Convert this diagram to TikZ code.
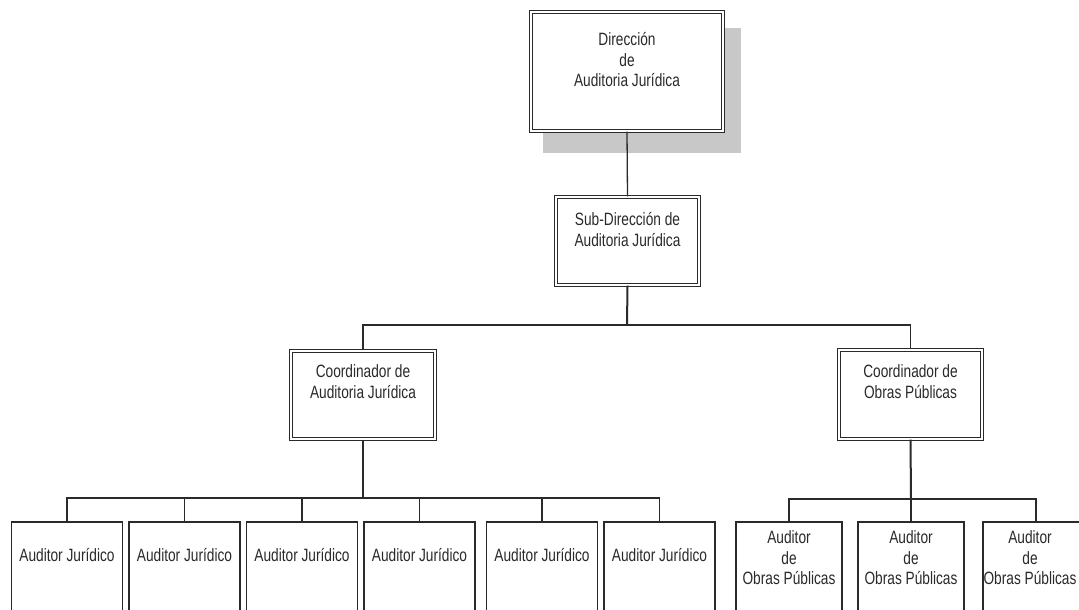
\documentclass[tikz,border=0pt]{standalone}
\usepackage{fontspec}
\usepackage{graphicx}
\setmainfont{Liberation Sans}
\usetikzlibrary{calc}

% tall, narrow label text: Arial-like glyphs stretched vertically
\newcommand{\tx}[1]{\scalebox{1}[1.3]{\begin{tabular}{@{}c@{}}#1\end{tabular}}}

\definecolor{ink}{HTML}{2A2A2A}
\definecolor{shadowgray}{HTML}{C8C8C8}

\tikzset{
  dbox/.style={draw=ink, line width=1.1pt, double=white, double distance=1.8pt,
               fill=white, rectangle, inner sep=0pt},
  sbox/.style={draw=ink, line width=1.3pt, fill=white, rectangle, inner sep=0pt,
               minimum height=98pt},
  ajbox/.style={sbox, minimum width=111pt},
  opbox/.style={sbox, minimum width=106pt},
  txt/.style={inner sep=0pt, text=ink, font=\fontsize{13.7}{15.4}\selectfont},
  conn/.style={draw=ink, line width=1.3pt},
  mainconn/.style={draw=ink, line width=2pt}
}

\begin{document}
\begin{tikzpicture}[x=1pt, y=-1pt]
\useasboundingbox (0,0) rectangle (1079,610);
\clip (0,0) rectangle (1079,610);

% drop shadow behind the director box
\fill[shadowgray] (543,28) rectangle (741,153);

% management boxes (double frame)
\node[dbox, minimum width=192pt, minimum height=119pt] (dir) at (627,71.5) {};
\node[txt] (dirT) at (627,62) {\tx{Dirección\\de\\Auditoria Jurídica}};

\node[dbox, minimum width=143pt, minimum height=88pt] (sub) at (627.5,241) {};
\node[txt] (subT) at (627.5,232) {\tx{Sub-Dirección de\\Auditoria Jurídica}};

\node[dbox, minimum width=144pt, minimum height=88pt] (cA) at (363,395) {};
\node[txt] (cAT) at (363,384) {\tx{Coordinador de\\Auditoria Jurídica}};

\node[dbox, minimum width=143pt, minimum height=89pt] (cO) at (910.5,394.5) {};
\node[txt] (cOT) at (910.5,384) {\tx{Coordinador de\\Obras Públicas}};

% legal auditors
\foreach \i/\x in {1/67, 2/184.5, 3/302, 4/419.5, 5/542, 6/659.5}{
  \node[ajbox] (a\i) at (\x,571) {};
  \node[txt] (a\i T) at (\x,557) {\tx{Auditor Jurídico}};
}

% public works auditors
\foreach \i/\x/\t in {1/789/789, 2/911/911, 3/1036/1030}{
  \node[opbox] (o\i) at (\x,571) {};
  \node[txt] (o\i T) at (\t,560) {\tx{Auditor\\de\\Obras Públicas}};
}

% bus junctions
\coordinate (bus1) at (627,325);
\coordinate (busA) at (363,498);
\coordinate (busO) at (911,499);

% connectors
\draw[conn] (dir.south) -- (sub.north);
\draw[mainconn] (sub.south) -- (bus1);
\draw[conn] (cA.north) |- (bus1) -| (cO.north);

\draw[mainconn] (cA.south) -- (busA);
\draw[conn] (a1.north) |- (busA) -| (a6.north);
\foreach \i in {2,3,4,5}{ \draw[conn] (a\i.north) -- (a\i.north |- busA); }

\draw[mainconn] (cO.south) -- (busO);
\draw[conn] (o1.north) |- (busO) -| (o3.north);
\draw[conn] (o2.north) -- (o2.north |- busO);
\end{tikzpicture}
\end{document}
